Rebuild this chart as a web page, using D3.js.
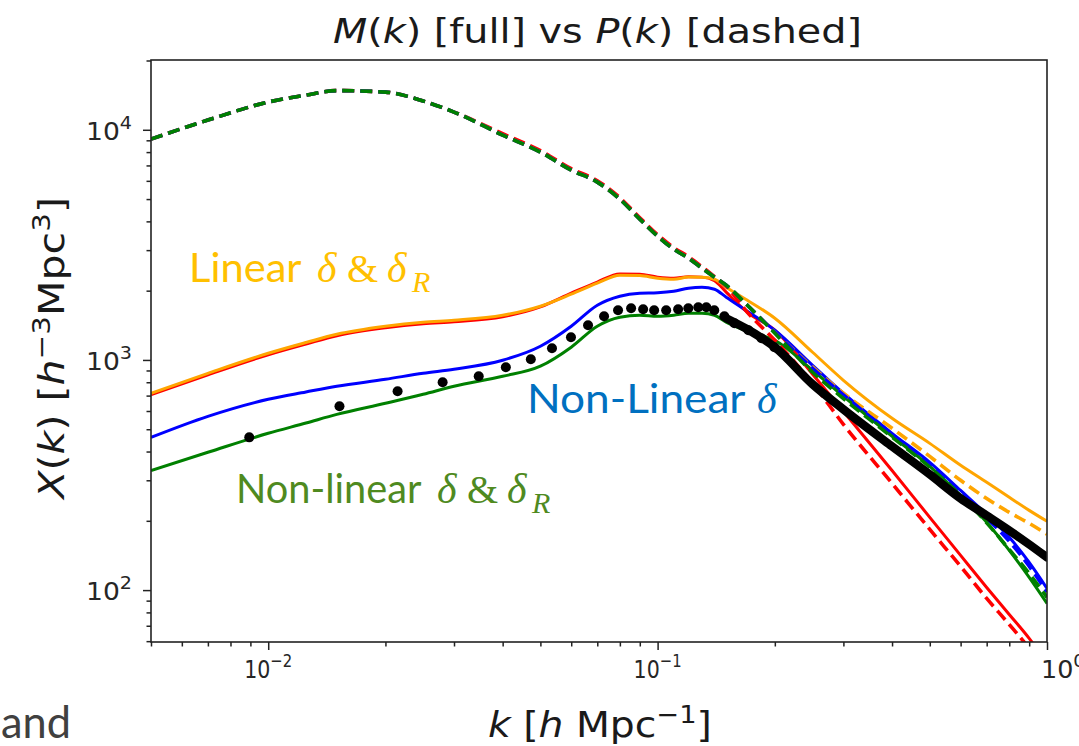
<!DOCTYPE html>
<html><head><meta charset="utf-8">
<script src="https://cdn.jsdelivr.net/npm/d3@7"></script>
<style>body{margin:0;background:#fff;overflow:hidden} svg{display:block}</style>
</head><body>
<svg id="c" width="1079" height="746"></svg>
<script>
// ---- data ----
const kGrid = [0.005,0.007,0.01,0.0125,0.015,0.02,0.025,0.03,0.04,0.05,0.06,0.07,0.08,0.09,0.1,0.11,0.12,0.13,0.14,0.15,0.17,0.2,0.25,0.3,0.4,0.5,0.6,0.7,0.8,0.9,1.0];
// P(k) dashed
const pLinear   = [9110,11020,13200,14150,14800,14580,13330,11940,9620,8120,6780,6010,5070,4150,3500,3075,2810,2540,2300,2090,1612,1218,792,525,291,183.6,126.8,92,70.9,55.8,43.9];
const pLinearR  = [9110,11020,13200,14150,14800,14580,13330,11940,9480,8000,6680,5925,4995,4090,3450,3029,2768,2504,2288,2111,1729,1320,930,717,505,381,300,250,217.6,195,174.7];
const pNonLin   = [9110,11020,13200,14150,14800,14580,13330,11940,9480,8000,6680,5925,4995,4090,3450,3029,2768,2504,2288,2111,1729,1320,920,705,474,352,265,206,163,127,98];
const pNonLinR  = [9110,11020,13200,14150,14800,14580,13330,11940,9480,8000,6680,5925,4995,4090,3450,3029,2768,2504,2288,2111,1729,1306,884,680,462,342,258,196,150,118,93];
// M(k) full
const mLinear   = [706,862,1053,1172,1274,1380,1437,1466,1541,1700,1950,2180,2365,2355,2290,2265,2300,2290,2210,1970,1612,1346,867,598,331,207,141.5,102.7,78.4,61.7,48];
const mLinearR  = [716.6,875,1069,1190,1293,1401,1459,1488,1564,1712,1930,2155,2335,2325,2266,2243,2290,2288,2243,2070,1818,1518,1080,816,558,434,348.5,294,253,222,199];
const mNonLin   = [461,569,675,726,768.6,824,875,911,997,1147,1401,1729,1892,1950,1960,1990,2050,2070,2029,1873,1628,1346,948,716.6,480,359,271,213,169.5,132,101.7];
const mNonLinR  = [331,397,480,532,580,648,709,768.6,849,939,1136,1401,1533,1564,1548,1564,1596,1596,1564,1458,1332,1218,902,695,466,345,258,197,148.8,113.6,87.5];
// simulation points
const simK   = [0.00894,0.01524,0.02149,0.02805,0.03472,0.04076,0.04725,0.05355,0.05991,0.06627,0.07286,0.07914,0.08549,0.0918,0.09797,0.1052,0.1129,0.1199,0.1272,0.1334,0.1398,0.1484,0.1575,0.1711,0.1848,0.1995];
const simV   = [461,629,731,800,849,929,1007,1124,1255,1415,1549,1644,1678,1661,1644,1644,1661,1678,1695,1695,1644,1549,1444,1346,1243,1136];
const simLineK = [0.15,0.17,0.2,0.25,0.3,0.4,0.5,0.6,0.7,0.8,0.9,1.0];
const simLineV = [1518,1359,1136,784,610,421,318,250,211,181.7,158,138.7];
const xTickVals = [0.01,0.1,1];
const xTickExp  = ["−2","−1","0"];
const yTickVals = [100,1000,10000];
const yTickExp  = ["2","3","4"];

// ---- layout ----
const L=151, R=1047, T=60, B=642;
const svg = d3.select("#c");
const x = d3.scaleLog().domain([0.005,1]).range([L,R]);
const y = d3.scaleLog().domain([59.5,20100]).range([B,T]);

svg.append("defs").append("clipPath").attr("id","clip")
  .append("rect").attr("x",L).attr("y",T).attr("width",R-L).attr("height",B-T);

const plot = svg.append("g").attr("clip-path","url(#clip)");
const line = d3.line().x(d=>x(d[0])).y(d=>y(d[1])).curve(d3.curveMonotoneX);
const pairs = (ks,vs)=>ks.map((k,i)=>[k,vs[i]]);

const solids = [[mLinear,"#ff0000"],[mLinearR,"#ffa500"],[mNonLin,"#0000ff"],[mNonLinR,"#008000"]];
const dashes = [[pLinear,"#ff0000"],[pLinearR,"#ffa500"],[pNonLin,"#0000ff"],[pNonLinR,"#008000"]];
solids.forEach(([v,c])=>{
  plot.append("path").attr("d",line(pairs(kGrid,v))).attr("fill","none")
    .attr("stroke",c).attr("stroke-width",3);
});
dashes.forEach(([v,c])=>{
  plot.append("path").attr("d",line(pairs(kGrid,v))).attr("fill","none")
    .attr("stroke",c).attr("stroke-width",3.6).attr("stroke-dasharray","12,6");
});
plot.append("path").attr("d",line(pairs(simLineK,simLineV))).attr("fill","none")
  .attr("stroke","#000").attr("stroke-width",8.5).attr("stroke-linecap","round");
plot.selectAll("circle.sim").data(pairs(simK,simV)).enter().append("circle")
  .attr("cx",d=>x(d[0])).attr("cy",d=>y(d[1])).attr("r",5).attr("fill","#000");

// ---- axes ----
const frameCol="#222";
svg.append("rect").attr("x",L).attr("y",T).attr("width",R-L).attr("height",B-T)
  .attr("fill","none").attr("stroke",frameCol).attr("stroke-width",1.6);

const xMinor=[], yMinor=[];
[0.001,0.01,0.1].forEach(d=>{for(let m=2;m<=9;m++){const v=d*m; if(v>=0.005&&v<=1) xMinor.push(v);}});
[10,100,1000,10000].forEach(d=>{for(let m=2;m<=9;m++){const v=d*m; if(v>=59.5&&v<=20100) yMinor.push(v);}});

const gx = svg.append("g").attr("transform",`translate(0,${B})`);
gx.call(d3.axisBottom(x).tickValues(xTickVals).tickSize(8).tickFormat(""));
gx.append("g").call(d3.axisBottom(x).tickValues(xMinor).tickSize(4.5).tickFormat(""));
const gy = svg.append("g").attr("transform",`translate(${L},0)`);
gy.call(d3.axisLeft(y).tickValues(yTickVals).tickSize(8).tickFormat(""));
gy.append("g").call(d3.axisLeft(y).tickValues(yMinor).tickSize(4.5).tickFormat(""));
svg.selectAll(".domain").remove();
svg.selectAll(".tick line").attr("stroke",frameCol).attr("stroke-width",1.5);

const FONT = "'DejaVu Sans', sans-serif";
function fit(g, left, width){
  const bb = g.node().getBBox();
  const s = width/bb.width;
  g.attr("transform",`translate(${left},0) scale(${s},1) translate(${-bb.x},0)`);
}
// x tick labels
xTickVals.forEach((v,i)=>{
  const g = svg.append("g");
  const t = g.append("text").attr("x",0).attr("y",678).attr("font-family",FONT)
    .attr("font-size",25).attr("fill","#262626");
  t.append("tspan").text("10");
  t.append("tspan").attr("dy",-11).attr("font-size",18).text(xTickExp[i]);
  if(i===2){ fit(g, 1041, 44); } else { fit(g, x(v)-24, 48); }
});
// y tick labels
yTickVals.forEach((v,i)=>{
  const g = svg.append("g");
  const t = g.append("text").attr("x",0).attr("y",y(v)+10).attr("font-family",FONT)
    .attr("font-size",25).attr("fill","#262626");
  t.append("tspan").text("10");
  t.append("tspan").attr("dy",-11).attr("font-size",18).text(yTickExp[i]);
  fit(g, 86, 46);
});

// title
{
  const g = svg.append("g");
  const t = g.append("text").attr("x",0).attr("y",43).attr("font-family",FONT)
    .attr("font-size",34).attr("fill","#1a1a1a");
  t.append("tspan").attr("font-style","italic").text("M");
  t.append("tspan").text("(");
  t.append("tspan").attr("font-style","italic").text("k");
  t.append("tspan").text(") [full] vs ");
  t.append("tspan").attr("font-style","italic").text("P");
  t.append("tspan").text("(");
  t.append("tspan").attr("font-style","italic").text("k");
  t.append("tspan").text(") [dashed]");
  fit(g, 333, 529);
}
// x label
{
  const g = svg.append("g");
  const t = g.append("text").attr("x",0).attr("y",737).attr("font-family",FONT)
    .attr("font-size",36).attr("fill","#1a1a1a");
  t.append("tspan").attr("font-style","italic").text("k");
  t.append("tspan").text(" [");
  t.append("tspan").attr("font-style","italic").text("h");
  t.append("tspan").text(" Mpc");
  t.append("tspan").attr("dy",-14).attr("font-size",25).text("−1");
  t.append("tspan").attr("dy",14).text("]");
  fit(g, 488, 224);
}
// y label
{
  const outer = svg.append("g").attr("transform","rotate(-90)");
  const g = outer.append("g");
  const t = g.append("text").attr("x",0).attr("y",64).attr("font-family",FONT)
    .attr("font-size",35).attr("fill","#1a1a1a");
  t.append("tspan").attr("font-style","italic").text("X");
  t.append("tspan").text("(");
  t.append("tspan").attr("font-style","italic").text("k");
  t.append("tspan").text(") [");
  t.append("tspan").attr("font-style","italic").text("h");
  t.append("tspan").attr("dy",-14).attr("font-size",25).text("−3");
  t.append("tspan").attr("dy",14).text("Mpc");
  t.append("tspan").attr("dy",-14).attr("font-size",25).text("3");
  t.append("tspan").attr("dy",14).text("]");
  fit(g, -501, 304);
}

// annotations
const SANS = "Lato, 'Open Sans', sans-serif";
const SERIF = "'Liberation Serif', 'DejaVu Serif', serif";
function word(txt, left, width, base, col, size){
  const g = svg.append("g");
  g.append("text").attr("x",0).attr("y",base).attr("font-family",SANS)
    .attr("font-size",size).attr("fill",col).text(txt);
  fit(g,left,width);
}
function glyph(txt, xx, base, col, size, italic){
  svg.append("text").attr("x",xx).attr("y",base).attr("font-family",SERIF)
    .attr("font-size",size).attr("font-style",italic?"italic":"normal").attr("fill",col).text(txt);
}
const cOr="#ffc000", cBl="#0070c0", cGr="#4f8a1f";
word("Linear",189,113,282,cOr,40);
glyph("δ",317,282,cOr,42,true);
glyph("&",347,282,cOr,40,false);
glyph("δ",387,282,cOr,42,true);
glyph("R",412,292,cOr,30,true);

word("Non-Linear",527,219,413,cBl,40);
glyph("δ",757,413,cBl,42,true);

word("Non-linear",236,186,503,cGr,40);
glyph("δ",437,503,cGr,42,true);
glyph("&",467,503,cGr,40,false);
glyph("δ",507,503,cGr,42,true);
glyph("R",532,513,cGr,30,true);

word("and",1,70,738,"#404040",44);
</script>
</body></html>
